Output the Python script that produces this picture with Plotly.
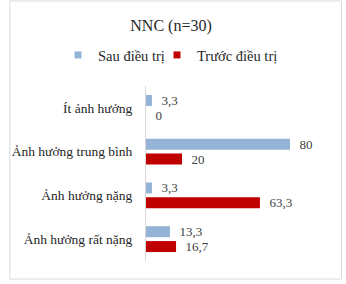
import plotly.graph_objects as go

categories = ["Ít ảnh hưởng", "Ảnh hưởng trung bình", "Ảnh hưởng nặng", "Ảnh hưởng rất nặng"]
sau_values = [3.3, 80, 3.3, 13.3]
truoc_values = [0, 20, 63.3, 16.7]
series_names = ["Sau điều trị", "Trước điều trị"]
colors = ["#95B3D7", "#C00000"]
title_text = "NNC (n=30)"

FONT = "Liberation Serif"

W, H = 346, 284
L, R, T, B = 141, 20, 86, 23
pw = W - L - R
ph = H - T - B
legend_left_px = [58, 157]

fig = go.Figure()
for name, vals, col in zip(series_names, [sau_values, truoc_values], colors):
    fig.add_trace(go.Bar(
        y=categories, x=vals, orientation="h", name=name,
        marker=dict(color=col, line=dict(width=0)),
        texttemplate="  %{x}", textposition="outside", cliponaxis=False,
        constraintext="none",
        textfont=dict(family=FONT, size=13, color="#404040"),
        showlegend=False, hoverinfo="skip",
    ))
for i, (name, col) in enumerate(zip(series_names, colors)):
    fig.add_trace(go.Scatter(
        x=[None], y=[None], mode="markers", name=name,
        marker=dict(symbol="square", size=7, color=col),
        legend="legend" if i == 0 else "legend2",
    ))


def px_x(p):
    return (p - L) / pw


def px_y(p):
    return (H - B - p) / ph


def legend_cfg(left):
    return dict(orientation="h", x=left / W, xref="container", xanchor="left",
                y=1 - 55 / H, yref="container", yanchor="middle",
                font=dict(family=FONT, size=14.5, color="#262626"),
                itemwidth=30, bgcolor="rgba(0,0,0,0)")


fig.update_layout(
    width=W, height=H,
    margin=dict(l=L, r=R, t=T, b=B),
    paper_bgcolor="white", plot_bgcolor="white",
    separators=",.",
    barmode="group", bargap=0.32, bargroupgap=0.26,
    font=dict(family=FONT, size=13.5, color="#262626"),
    title=dict(text=title_text, x=171 / W, xref="container", xanchor="center",
               y=1 - 25 / H, yref="container", yanchor="middle",
               font=dict(family=FONT, size=16, color="#262626")),
    legend=legend_cfg(legend_left_px[0]),
    legend2=legend_cfg(legend_left_px[1]),
    xaxis=dict(range=[0, 100], visible=False, showgrid=False, zeroline=False),
    yaxis=dict(autorange="reversed", showline=True, linecolor="#d9d9d9", linewidth=1,
               ticks="outside", ticklen=10, tickcolor="rgba(0,0,0,0)",
               showgrid=False, zeroline=False,
               tickfont=dict(family=FONT, size=13.5, color="#262626")),
    shapes=[dict(type="rect", xref="paper", yref="paper",
                 x0=px_x(1), x1=px_x(342), y0=px_y(279), y1=px_y(1),
                 line=dict(color="#d9d9d9", width=1), fillcolor="rgba(0,0,0,0)", layer="below")],
)

fig.write_html("out.html", config={"displayModeBar": False})
